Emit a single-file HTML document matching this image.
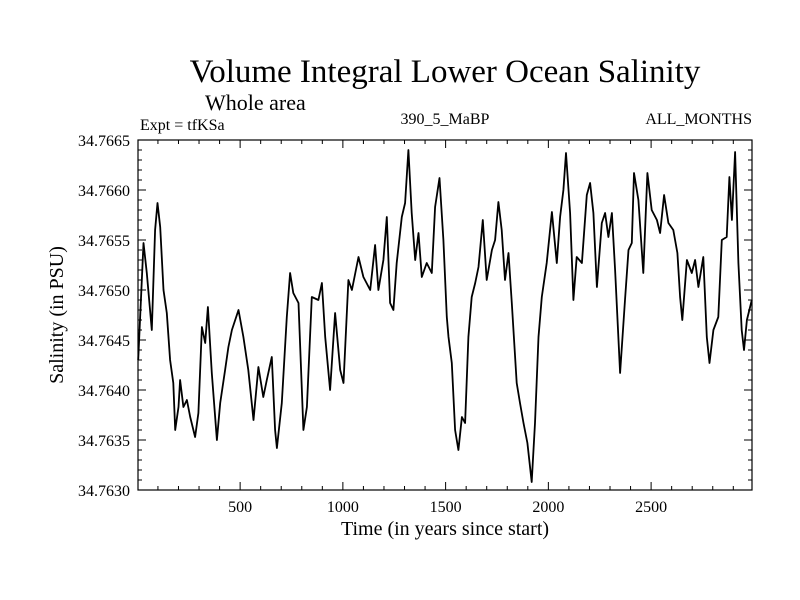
<!DOCTYPE html>
<html><head><meta charset="utf-8"><style>
body{margin:0;background:#fff}
svg{display:block;font-family:"Liberation Serif",serif}
</style></head><body>
<svg width="800" height="600" viewBox="0 0 800 600">
<rect width="800" height="600" fill="#fff"/>
<text x="445" y="82" font-size="33" text-anchor="middle">Volume Integral Lower Ocean Salinity</text>
<text x="205" y="110" font-size="22">Whole area</text>
<text x="140" y="130" font-size="16">Expt = tfKSa</text>
<text x="445" y="124" font-size="16" text-anchor="middle">390_5_MaBP</text>
<text x="752" y="124" font-size="16" text-anchor="end">ALL_MONTHS</text>
<g id="axes"></g>
<path id="series" fill="none" stroke="#000" stroke-width="1.8" stroke-linejoin="round"/>
<rect x="138" y="140" width="614" height="350" fill="none" stroke="#000" stroke-width="1.2"/>
<text x="445" y="535" font-size="20" text-anchor="middle">Time (in years since start)</text>
<text transform="translate(63,315) rotate(-90)" font-size="20" text-anchor="middle">Salinity (in PSU)</text>
</svg>
<script>
const years=[4,30,46,70,86,98,111,127,143,159,175,184,200,208,224,241,257,281,297,314,330,343,362,387,403,427,443,460,492,516,540,565,589,613,630,654,670,679,703,727,743,759,784,808,825,849,881,898,914,938,962,987,1003,1027,1044,1076,1100,1133,1157,1173,1197,1214,1230,1246,1262,1287,1303,1319,1335,1352,1368,1384,1408,1433,1449,1470,1489,1506,1514,
1530,1546,1562,1579,1595,1611,1627,1644,1660,1681,1700,1725,1741,1757,1773,1789,1806,1822,1846,1862,1879,1898,1919,1935,1952,1968,1992,2017,2041,2057,2073,2086,2106,2122,2138,2163,2187,2203,2219,2236,2260,2276,2292,2309,2325,2349,2373,2390,2406,2417,2438,2462,2482,2503,2528,2544,2563,2584,2608,2628,2641,2652,2674,2698,2714,2730,2754,2771,2784,2803,2827,2844,2868,2881,2893,2909,2925,2941,2952,2966,2990];
const salinity=[34.76430,34.76547,34.76517,34.76460,34.76560,34.76587,34.76563,34.76500,34.76477,34.76430,34.76407,34.76360,34.76383,34.76410,34.76383,34.76390,34.76373,34.76353,34.76377,34.76463,34.76447,34.76483,34.76417,34.76350,34.76387,34.76420,34.76443,34.76460,34.76480,34.76453,34.76420,34.76370,34.76423,34.76393,34.76410,34.76433,34.76360,34.76342,34.76387,34.76473,34.76517,34.76497,34.76487,34.76360,34.76383,34.76493,34.76490,34.76507,34.76453,34.76400,34.76477,34.76420,34.76407,34.76510,34.76500,34.76533,34.76513,34.76500,34.76545,34.76500,34.76530,34.76573,34.76487,34.76480,34.76527,34.76573,34.76587,34.76640,34.76577,34.76530,34.76557,34.76513,34.76527,34.76517,34.76583,34.76612,34.76550,34.76473,34.76453,
34.76427,34.76360,34.76340,34.76373,34.76367,34.76453,34.76493,34.76507,34.76523,34.76570,34.76510,34.76540,34.76550,34.76588,34.76560,34.76510,34.76537,34.76487,34.76407,34.76387,34.76367,34.76347,34.76308,34.76367,34.76453,34.76493,34.76527,34.76578,34.76527,34.76573,34.76600,34.76637,34.76577,34.76490,34.76533,34.76527,34.76595,34.76607,34.76577,34.76503,34.76567,34.76577,34.76553,34.76577,34.76520,34.76417,34.76490,34.76540,34.76547,34.76617,34.76590,34.76517,34.76617,34.76580,34.76570,34.76557,34.76595,34.76567,34.76560,34.76537,34.76493,34.76470,34.76530,34.76517,34.76530,34.76503,34.76533,34.76453,34.76427,34.76460,34.76473,34.76550,34.76553,34.76613,34.76570,34.76638,34.76527,34.76460,34.76440,34.76470,34.76490];
const xTicks=[500,1000,1500,2000,2500];
const yTicks=[34.7630,34.7635,34.7640,34.7645,34.7650,34.7655,34.7660,34.7665];
const X0=138,X1=752,Y0=490,Y1=140,XMIN=3,XMAX=2991,YMIN=34.7630,YMAX=34.7665;
const sx=v=>X0+(v-XMIN)/(XMAX-XMIN)*(X1-X0);
const sy=v=>Y0-(v-YMIN)/(YMAX-YMIN)*(Y0-Y1);
const NS='http://www.w3.org/2000/svg';
const g=document.getElementById('axes');
function mk(t,a){const e=document.createElementNS(NS,t);for(const k in a)e.setAttribute(k,a[k]);g.appendChild(e);return e;}
let d='';
for(let v=100;v<XMAX;v+=100){const x=sx(v);const L=(v%500===0)?8:4;
d+=`M${x},${Y0}v${-L}M${x},${Y1}v${L}`;}
for(let i=0;i<=35;i++){const y=sy(YMIN+i*0.0001);const L=(i%5===0)?8:4;
d+=`M${X0},${y}h${L}M${X1},${y}h${-L}`;}
const tk=mk('path',{d:d,stroke:'#000','stroke-width':1,fill:'none'});


xTicks.forEach(v=>{const t=mk('text',{x:sx(v),y:512,'font-size':16,'text-anchor':'middle'});t.textContent=v;

});
yTicks.forEach(v=>{const t=mk('text',{x:130,y:sy(v)+6,'font-size':16,'text-anchor':'end'});t.textContent=v.toFixed(4);

});
const n=Math.min(years.length,salinity.length);
let p='';for(let i=0;i<n;i++)p+=(i?'L':'M')+sx(years[i]).toFixed(1)+','+sy(salinity[i]).toFixed(1);
document.getElementById('series').setAttribute('d',p);
</script>
</body></html>
